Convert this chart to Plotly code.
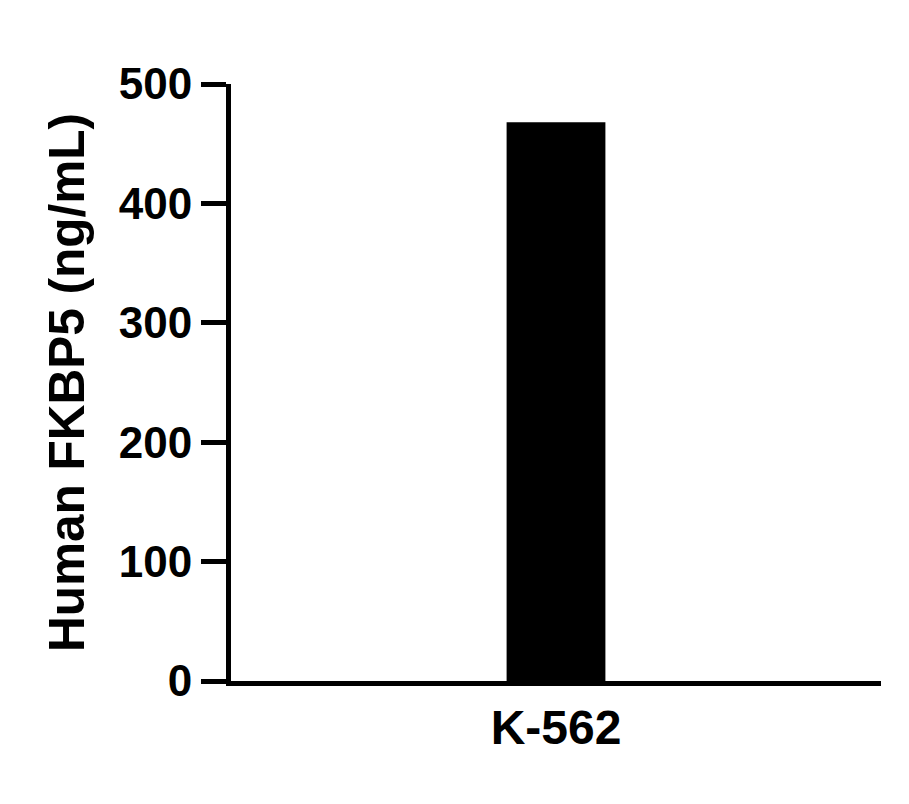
import plotly.graph_objects as go

# data
cell_lines = ["K-562"]
fkbp5_ng_ml = [468]

y_ticks = [0, 100, 200, 300, 400, 500]

FONT = "Arial, 'Liberation Sans', sans-serif"

fig = go.Figure(
    data=[go.Bar(
        x=cell_lines,
        y=fkbp5_ng_ml,
        width=0.152,
        marker=dict(color="black", line=dict(width=0)),
    )]
)

# the page body adds an 8px margin, so the figure is 8px smaller
fig.update_layout(
    width=901,
    height=796,
    margin=dict(l=222.5, r=28, t=76, b=122.5),
    paper_bgcolor="white",
    plot_bgcolor="white",
    showlegend=False,
    font=dict(family=FONT, color="black"),
)

fig.update_xaxes(
    showline=True, linewidth=5, linecolor="black",
    ticks="", showgrid=False, zeroline=False,
    tickfont=dict(family=FONT, size=48, color="black", weight="bold"),
)

fig.update_yaxes(
    range=[0, 500],
    tickvals=y_ticks,
    showline=True, linewidth=5, linecolor="black",
    ticks="outside", ticklen=25, tickwidth=5, tickcolor="black",
    ticklabelstandoff=0,
    showgrid=False, zeroline=False,
    tickfont=dict(family=FONT, size=44, color="black", weight="bold"),
    title=dict(text="Human FKBP5 (ng/mL)", standoff=20,
               font=dict(family=FONT, size=49.5, color="black", weight="bold")),
)

fig.write_html("out.html")
